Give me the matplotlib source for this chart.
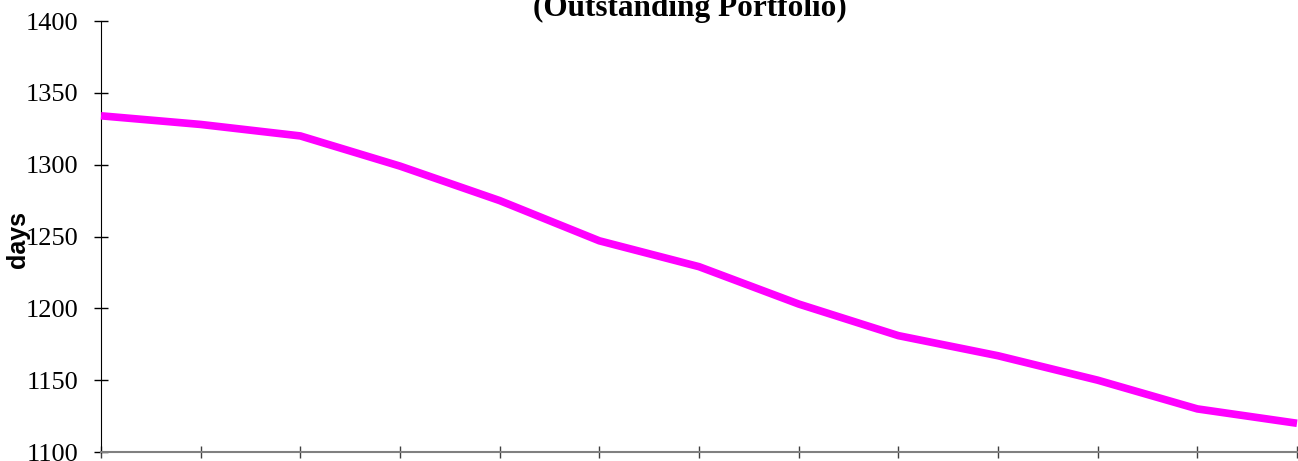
import matplotlib
matplotlib.use("Agg")
import matplotlib.pyplot as plt

periods = list(range(13))
days = [1334, 1328, 1320, 1299, 1275, 1247, 1229, 1203, 1181, 1167, 1150, 1130, 1120]
yticks = [1100, 1150, 1200, 1250, 1300, 1350, 1400]
title = "(Outstanding Portfolio)"
ylabel = "days"

fig = plt.figure(figsize=(12.98, 4.61), dpi=100)
ax = fig.add_axes([101/1298, 1 - 452/461, (1297 - 101)/1298, (452 - 21)/461])

ax.plot(periods, days, color="#FF00FF", linewidth=5.5, solid_joinstyle="miter",
        solid_capstyle="butt", clip_on=False, zorder=3)

ax.set_xlim(0, 12)
ax.set_ylim(1100, 1400)
ax.set_xticks(periods)
ax.set_xticklabels([])
ax.set_yticks(yticks)
ax.set_yticklabels([str(v) for v in yticks], family="Liberation Serif", fontsize=19)

ax.tick_params(axis="y", direction="inout", length=10, width=1, pad=11, colors="black")
ax.tick_params(axis="x", direction="inout", length=9, width=1, color="#404040")

for s in ["top", "right"]:
    ax.spines[s].set_visible(False)
ax.spines["left"].set_color("black")
ax.spines["bottom"].set_color("#808080")
ax.spines["bottom"].set_linewidth(1.5)

fig.text(18/1298, 1 - 240/461, ylabel, rotation=90, ha="center", va="center",
         family="Liberation Sans", fontweight="bold", fontsize=18)
fig.text(690/1298, 1 - 16/461, title, ha="center", va="baseline",
         family="Liberation Serif", fontweight="bold", fontsize=22.5)

fig.savefig("out.png", dpi=100)
